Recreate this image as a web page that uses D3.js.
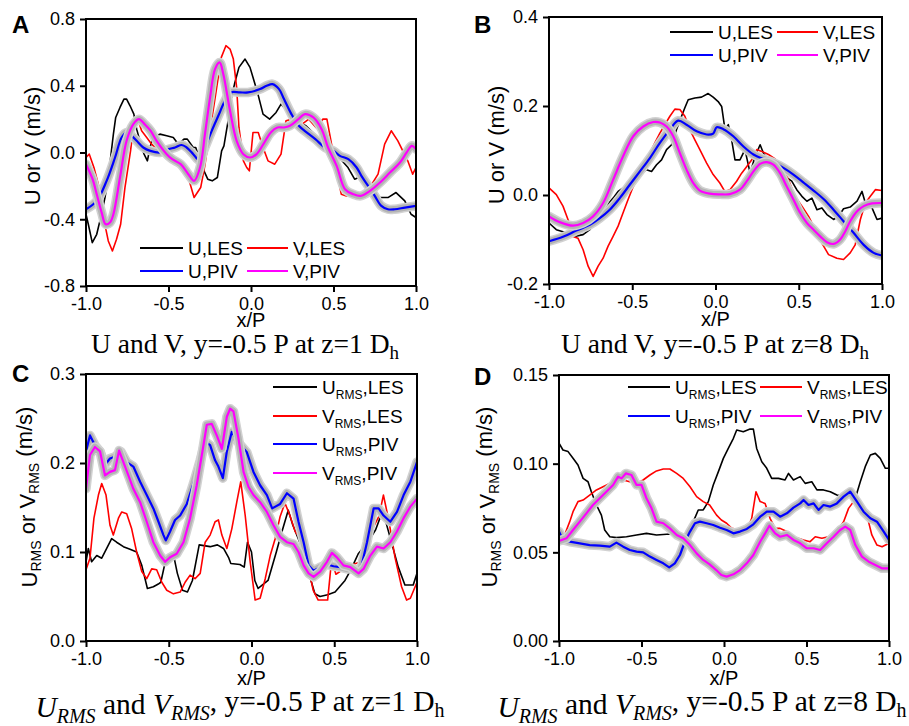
<!DOCTYPE html>
<html>
<head>
<meta charset="utf-8">
<script src="https://cdn.jsdelivr.net/npm/d3@7"></script>
<style>
  body { margin: 0; background: #fff; }
  svg { display: block; }
</style>
</head>
<body>
<svg id="fig" width="909" height="726"></svg>
<script>
// ---- shared axis values ----
const xTicks = [-1.0, -0.5, 0.0, 0.5, 1.0];
const aYTicks = [-0.8, -0.4, 0.0, 0.4, 0.8];
const bYTicks = [-0.2, 0.0, 0.2, 0.4];
const cYTicks = [0.0, 0.1, 0.2, 0.3];
const dYTicks = [0.00, 0.05, 0.10, 0.15];

// ---- panel A: U and V at z = 1 Dh, [x/P, value in m/s] ----
const aULes = [[-1.0,-0.37],[-0.986,-0.43],[-0.962,-0.54],[-0.935,-0.49],[-0.911,-0.39],[-0.885,-0.27],[-0.865,-0.15],[-0.834,0.11],[-0.82,0.21],[-0.794,0.27],[-0.77,0.32],[-0.754,0.32],[-0.733,0.28],[-0.71,0.23],[-0.693,0.14],[-0.668,0.05],[-0.648,-0.01],[-0.628,-0.05],[-0.612,0.03],[-0.592,0.10],[-0.578,0.10],[-0.552,0.11],[-0.511,0.10],[-0.471,0.09],[-0.44,0.05],[-0.406,0.08],[-0.386,0.08],[-0.35,0.03],[-0.335,0.03],[-0.31,-0.05],[-0.285,-0.11],[-0.262,-0.16],[-0.235,-0.17],[-0.204,-0.15],[-0.178,0.01],[-0.164,0.04],[-0.137,0.20],[-0.123,0.31],[-0.1,0.41],[-0.073,0.51],[-0.036,0.56],[-0.006,0.51],[0.024,0.41],[0.042,0.35],[0.073,0.23],[0.113,0.20],[0.152,0.24],[0.182,0.29],[0.22,0.25],[0.26,0.21],[0.29,0.18],[0.333,0.16],[0.406,0.09],[0.507,0.0],[0.588,-0.09],[0.628,-0.16],[0.679,-0.14],[0.75,-0.27],[0.83,-0.27],[0.879,-0.24],[0.932,-0.29],[0.97,-0.37],[1.0,-0.39]];
const aVLes = [[-1.0,-0.03],[-0.98,-0.01],[-0.952,-0.09],[-0.915,-0.23],[-0.89,-0.41],[-0.865,-0.53],[-0.84,-0.59],[-0.815,-0.52],[-0.79,-0.43],[-0.764,-0.21],[-0.73,0.01],[-0.71,0.17],[-0.695,0.21],[-0.683,0.19],[-0.663,0.13],[-0.632,0.09],[-0.602,0.05],[-0.572,0.02],[-0.531,0.01],[-0.491,-0.03],[-0.45,-0.05],[-0.406,-0.11],[-0.38,-0.15],[-0.345,-0.27],[-0.305,-0.21],[-0.28,-0.08],[-0.255,0.09],[-0.214,0.35],[-0.18,0.57],[-0.152,0.64],[-0.127,0.62],[-0.107,0.56],[-0.087,0.39],[-0.073,0.15],[-0.046,-0.05],[-0.026,-0.09],[-0.01,-0.11],[0.012,0.12],[0.044,0.12],[0.073,0.03],[0.103,-0.05],[0.144,-0.07],[0.182,-0.01],[0.212,0.19],[0.25,0.20],[0.28,0.16],[0.31,0.17],[0.35,0.20],[0.394,0.15],[0.436,0.20],[0.46,0.20],[0.507,-0.05],[0.547,-0.25],[0.578,-0.26],[0.62,-0.25],[0.68,-0.24],[0.72,-0.21],[0.77,-0.13],[0.81,0.05],[0.85,0.13],[0.89,0.07],[0.92,0.01],[0.95,-0.05],[0.98,-0.13],[1.0,-0.09]];
const aUPiv = [[-1.0,-0.34],[-0.935,-0.29],[-0.875,-0.17],[-0.824,-0.03],[-0.784,0.09],[-0.754,0.12],[-0.723,0.10],[-0.693,0.07],[-0.653,0.03],[-0.61,0.01],[-0.552,0.0],[-0.5,0.02],[-0.46,0.03],[-0.42,0.045],[-0.39,0.03],[-0.35,-0.01],[-0.315,-0.045],[-0.279,0.03],[-0.238,0.13],[-0.198,0.22],[-0.158,0.31],[-0.123,0.36],[-0.067,0.36],[-0.018,0.36],[0.055,0.38],[0.095,0.40],[0.13,0.41],[0.17,0.38],[0.2,0.32],[0.245,0.23],[0.29,0.16],[0.325,0.13],[0.39,0.08],[0.448,0.03],[0.499,0.01],[0.539,-0.02],[0.59,-0.04],[0.64,-0.09],[0.669,-0.14],[0.71,-0.2],[0.75,-0.26],[0.79,-0.32],[0.83,-0.34],[0.871,-0.34],[0.933,-0.33],[1.0,-0.32]];
const aVPiv = [[-1.0,-0.07],[-0.96,-0.16],[-0.935,-0.25],[-0.905,-0.36],[-0.881,-0.43],[-0.855,-0.42],[-0.834,-0.37],[-0.794,-0.15],[-0.754,0.07],[-0.713,0.17],[-0.679,0.20],[-0.645,0.17],[-0.608,0.13],[-0.572,0.07],[-0.511,-0.01],[-0.477,-0.04],[-0.426,-0.07],[-0.38,-0.13],[-0.345,-0.17],[-0.309,-0.09],[-0.279,0.11],[-0.248,0.33],[-0.218,0.50],[-0.19,0.54],[-0.168,0.47],[-0.127,0.25],[-0.087,0.07],[-0.046,-0.01],[-0.006,-0.03],[0.034,-0.01],[0.075,0.05],[0.12,0.12],[0.16,0.15],[0.2,0.15],[0.236,0.16],[0.287,0.20],[0.327,0.23],[0.378,0.21],[0.428,0.14],[0.467,0.03],[0.519,-0.08],[0.57,-0.22],[0.62,-0.25],[0.665,-0.26],[0.721,-0.23],[0.782,-0.18],[0.842,-0.12],[0.903,-0.06],[0.943,0.0],[0.975,0.04],[1.0,0.02]];

// ---- panel B: U and V at z = 8 Dh ----
const bULes = [[-1.0,-0.063],[-0.956,-0.078],[-0.896,-0.085],[-0.846,-0.093],[-0.795,-0.089],[-0.755,-0.078],[-0.705,-0.048],[-0.655,-0.025],[-0.615,-0.007],[-0.585,0.008],[-0.555,0.016],[-0.515,0.023],[-0.474,0.034],[-0.444,0.049],[-0.414,0.057],[-0.384,0.053],[-0.354,0.068],[-0.324,0.079],[-0.294,0.102],[-0.264,0.113],[-0.234,0.147],[-0.204,0.177],[-0.184,0.196],[-0.164,0.214],[-0.124,0.218],[-0.084,0.220],[-0.044,0.228],[-0.014,0.220],[0.016,0.210],[0.037,0.199],[0.057,0.147],[0.077,0.158],[0.097,0.124],[0.117,0.079],[0.147,0.079],[0.177,0.102],[0.208,0.049],[0.238,0.087],[0.268,0.113],[0.288,0.094],[0.328,0.072],[0.378,0.064],[0.418,0.042],[0.458,0.031],[0.488,0.012],[0.519,-0.003],[0.549,-0.014],[0.579,-0.007],[0.609,-0.033],[0.639,-0.029],[0.669,-0.044],[0.709,-0.055],[0.739,-0.048],[0.769,-0.031],[0.809,-0.027],[0.85,-0.014],[0.88,0.008],[0.9,-0.018],[0.94,-0.029],[0.97,-0.055],[1.0,-0.052]];
const bVLes = [[-1.0,0.016],[-0.956,0.001],[-0.916,-0.025],[-0.886,-0.055],[-0.856,-0.093],[-0.826,-0.097],[-0.795,-0.123],[-0.765,-0.160],[-0.735,-0.183],[-0.705,-0.160],[-0.675,-0.142],[-0.645,-0.115],[-0.615,-0.093],[-0.585,-0.070],[-0.555,-0.040],[-0.525,-0.010],[-0.494,0.019],[-0.464,0.042],[-0.434,0.064],[-0.394,0.094],[-0.364,0.117],[-0.334,0.139],[-0.304,0.158],[-0.274,0.177],[-0.244,0.193],[-0.214,0.192],[-0.184,0.177],[-0.154,0.147],[-0.124,0.124],[-0.094,0.102],[-0.054,0.072],[-0.014,0.046],[0.026,0.027],[0.056,0.008],[0.087,0.012],[0.127,0.031],[0.157,0.049],[0.188,0.064],[0.218,0.079],[0.248,0.102],[0.278,0.098],[0.318,0.091],[0.358,0.081],[0.398,0.064],[0.438,0.034],[0.478,-0.003],[0.519,-0.025],[0.559,-0.048],[0.599,-0.078],[0.639,-0.108],[0.679,-0.134],[0.729,-0.142],[0.769,-0.145],[0.809,-0.130],[0.839,-0.112],[0.87,-0.055],[0.9,-0.018],[0.93,-0.003],[0.96,0.012],[1.0,0.010]];
const bUPiv = [[-1.0,-0.104],[-0.916,-0.094],[-0.836,-0.080],[-0.755,-0.067],[-0.695,-0.052],[-0.635,-0.033],[-0.575,-0.007],[-0.515,0.023],[-0.454,0.053],[-0.394,0.083],[-0.334,0.117],[-0.274,0.147],[-0.224,0.167],[-0.174,0.158],[-0.113,0.143],[-0.053,0.136],[-0.014,0.138],[0.007,0.152],[0.047,0.148],[0.107,0.132],[0.168,0.109],[0.228,0.091],[0.288,0.081],[0.348,0.073],[0.408,0.061],[0.468,0.046],[0.529,0.028],[0.589,0.010],[0.649,-0.009],[0.709,-0.033],[0.769,-0.059],[0.829,-0.085],[0.89,-0.112],[0.95,-0.130],[1.0,-0.136]];
const bVPiv = [[-1.0,-0.048],[-0.936,-0.061],[-0.856,-0.069],[-0.795,-0.063],[-0.735,-0.048],[-0.675,-0.018],[-0.615,0.034],[-0.555,0.087],[-0.494,0.132],[-0.434,0.154],[-0.374,0.164],[-0.334,0.163],[-0.294,0.154],[-0.254,0.132],[-0.214,0.094],[-0.174,0.057],[-0.134,0.027],[-0.094,0.010],[-0.034,0.003],[0.026,0.0015],[0.087,0.002],[0.147,0.012],[0.188,0.031],[0.228,0.053],[0.268,0.070],[0.308,0.074],[0.348,0.068],[0.388,0.049],[0.428,0.019],[0.468,-0.010],[0.508,-0.040],[0.549,-0.063],[0.589,-0.078],[0.629,-0.093],[0.669,-0.106],[0.709,-0.110],[0.749,-0.100],[0.779,-0.082],[0.809,-0.059],[0.849,-0.037],[0.89,-0.025],[0.94,-0.019],[1.0,-0.018]];

// ---- panel C: URMS and VRMS at z = 1 Dh ----
const cULes = [[-1.0,0.089],[-0.986,0.104],[-0.966,0.089],[-0.935,0.096],[-0.905,0.093],[-0.875,0.104],[-0.845,0.115],[-0.815,0.111],[-0.774,0.106],[-0.734,0.103],[-0.694,0.100],[-0.663,0.085],[-0.629,0.059],[-0.593,0.061],[-0.563,0.064],[-0.548,0.066],[-0.528,0.083],[-0.515,0.093],[-0.468,0.094],[-0.448,0.076],[-0.417,0.057],[-0.387,0.055],[-0.357,0.068],[-0.316,0.108],[-0.25,0.106],[-0.206,0.108],[-0.169,0.104],[-0.139,0.094],[-0.125,0.087],[-0.07,0.086],[-0.044,0.083],[-0.024,0.111],[0.0,0.10],[0.02,0.068],[0.04,0.059],[0.1,0.068],[0.15,0.10],[0.181,0.121],[0.222,0.147],[0.25,0.13],[0.302,0.106],[0.353,0.072],[0.383,0.053],[0.414,0.050],[0.46,0.052],[0.505,0.055],[0.565,0.068],[0.6,0.08],[0.645,0.098],[0.7,0.11],[0.75,0.125],[0.78,0.14],[0.81,0.135],[0.847,0.11],[0.887,0.083],[0.927,0.063],[0.977,0.063],[1.0,0.076]];
const cVLes = [[-1.0,0.080],[-0.976,0.093],[-0.952,0.138],[-0.925,0.164],[-0.905,0.177],[-0.879,0.164],[-0.855,0.130],[-0.835,0.119],[-0.804,0.138],[-0.784,0.145],[-0.754,0.143],[-0.724,0.126],[-0.694,0.100],[-0.663,0.078],[-0.633,0.070],[-0.603,0.081],[-0.573,0.080],[-0.542,0.066],[-0.512,0.057],[-0.472,0.053],[-0.431,0.055],[-0.401,0.066],[-0.371,0.074],[-0.341,0.070],[-0.31,0.076],[-0.28,0.111],[-0.25,0.119],[-0.22,0.134],[-0.2,0.136],[-0.179,0.119],[-0.149,0.104],[-0.119,0.126],[-0.089,0.156],[-0.065,0.179],[-0.038,0.141],[-0.008,0.089],[0.022,0.046],[0.052,0.048],[0.083,0.070],[0.113,0.096],[0.143,0.115],[0.173,0.140],[0.202,0.155],[0.234,0.14],[0.264,0.123],[0.313,0.11],[0.335,0.09],[0.373,0.057],[0.403,0.046],[0.46,0.046],[0.484,0.091],[0.51,0.075],[0.55,0.08],[0.6,0.085],[0.66,0.089],[0.7,0.096],[0.736,0.128],[0.77,0.14],[0.797,0.164],[0.83,0.135],[0.867,0.094],[0.907,0.061],[0.937,0.046],[0.96,0.048],[1.0,0.066]];
const cUPiv = [[-1.0,0.213],[-0.976,0.231],[-0.946,0.220],[-0.915,0.213],[-0.885,0.198],[-0.855,0.205],[-0.825,0.207],[-0.79,0.213],[-0.754,0.201],[-0.714,0.196],[-0.673,0.179],[-0.633,0.164],[-0.593,0.149],[-0.562,0.134],[-0.532,0.119],[-0.518,0.113],[-0.492,0.123],[-0.462,0.136],[-0.431,0.141],[-0.391,0.154],[-0.351,0.177],[-0.31,0.203],[-0.28,0.224],[-0.25,0.220],[-0.22,0.203],[-0.2,0.196],[-0.173,0.183],[-0.149,0.213],[-0.119,0.235],[-0.075,0.222],[-0.028,0.212],[0.012,0.190],[0.052,0.175],[0.093,0.164],[0.125,0.149],[0.173,0.154],[0.214,0.166],[0.254,0.160],[0.284,0.134],[0.315,0.111],[0.345,0.085],[0.375,0.079],[0.415,0.083],[0.456,0.086],[0.496,0.084],[0.536,0.083],[0.577,0.081],[0.617,0.081],[0.657,0.078],[0.698,0.111],[0.738,0.149],[0.768,0.149],[0.798,0.141],[0.839,0.134],[0.879,0.145],[0.919,0.164],[0.96,0.179],[1.0,0.201]];
const cVPiv = [[-1.0,0.171],[-0.976,0.209],[-0.946,0.218],[-0.915,0.213],[-0.885,0.186],[-0.855,0.190],[-0.825,0.192],[-0.8,0.214],[-0.774,0.201],[-0.744,0.186],[-0.714,0.171],[-0.673,0.156],[-0.633,0.134],[-0.593,0.111],[-0.552,0.096],[-0.522,0.089],[-0.492,0.094],[-0.452,0.098],[-0.411,0.111],[-0.371,0.138],[-0.331,0.175],[-0.3,0.209],[-0.27,0.243],[-0.24,0.244],[-0.21,0.231],[-0.179,0.216],[-0.149,0.252],[-0.129,0.261],[-0.109,0.258],[-0.079,0.228],[-0.048,0.190],[-0.018,0.173],[0.012,0.164],[0.052,0.156],[0.093,0.145],[0.133,0.130],[0.173,0.117],[0.214,0.111],[0.254,0.109],[0.284,0.100],[0.315,0.085],[0.345,0.076],[0.375,0.072],[0.415,0.078],[0.456,0.089],[0.486,0.099],[0.516,0.094],[0.556,0.085],[0.597,0.083],[0.647,0.076],[0.677,0.081],[0.718,0.096],[0.758,0.106],[0.798,0.104],[0.839,0.111],[0.879,0.123],[0.919,0.138],[0.96,0.151],[1.0,0.160]];

// ---- panel D: URMS and VRMS at z = 8 Dh ----
const dULes = [[-1.0,0.1115],[-0.976,0.1077],[-0.945,0.1068],[-0.915,0.103],[-0.885,0.0992],[-0.854,0.0917],[-0.824,0.0898],[-0.804,0.0842],[-0.773,0.0767],[-0.743,0.071],[-0.723,0.0626],[-0.692,0.0588],[-0.652,0.0583],[-0.591,0.0588],[-0.53,0.0598],[-0.47,0.0607],[-0.409,0.0598],[-0.348,0.0602],[-0.298,0.0603],[-0.247,0.0579],[-0.217,0.0635],[-0.186,0.0673],[-0.156,0.0739],[-0.126,0.0739],[-0.095,0.0786],[-0.065,0.088],[-0.034,0.0955],[-0.004,0.103],[0.026,0.1086],[0.057,0.1143],[0.077,0.119],[0.117,0.118],[0.158,0.1195],[0.178,0.1195],[0.198,0.1086],[0.229,0.1011],[0.259,0.0974],[0.289,0.0917],[0.33,0.0917],[0.37,0.0908],[0.391,0.0945],[0.421,0.0908],[0.462,0.0927],[0.492,0.0889],[0.532,0.0898],[0.563,0.0852],[0.603,0.0852],[0.644,0.0842],[0.684,0.0823],[0.725,0.0814],[0.765,0.0823],[0.796,0.0805],[0.826,0.0898],[0.856,0.0983],[0.887,0.1049],[0.917,0.1058],[0.947,0.103],[0.978,0.0974],[1.0,0.0974]];
const dVLes = [[-1.0,0.056],[-0.966,0.0598],[-0.935,0.0673],[-0.915,0.0729],[-0.885,0.0786],[-0.854,0.0795],[-0.814,0.0823],[-0.773,0.0852],[-0.733,0.087],[-0.692,0.0889],[-0.652,0.0908],[-0.611,0.0908],[-0.571,0.0898],[-0.53,0.0889],[-0.49,0.0908],[-0.449,0.0936],[-0.409,0.0959],[-0.368,0.097],[-0.328,0.097],[-0.287,0.0945],[-0.247,0.0917],[-0.206,0.087],[-0.166,0.0814],[-0.126,0.0786],[-0.087,0.0767],[-0.045,0.071],[-0.016,0.0682],[0.016,0.0664],[0.047,0.0635],[0.097,0.0626],[0.138,0.0626],[0.168,0.0692],[0.194,0.0842],[0.219,0.0786],[0.249,0.0776],[0.279,0.0692],[0.31,0.0635],[0.34,0.0635],[0.381,0.0617],[0.421,0.0588],[0.482,0.057],[0.522,0.056],[0.553,0.0588],[0.593,0.0579],[0.634,0.0588],[0.684,0.0617],[0.725,0.0673],[0.755,0.0748],[0.785,0.0786],[0.826,0.0776],[0.866,0.071],[0.896,0.0598],[0.927,0.0541],[0.958,0.0532],[1.0,0.0551]];
const dUPiv = [[-1.0,0.0617],[-0.976,0.057],[-0.935,0.056],[-0.874,0.0551],[-0.814,0.0541],[-0.753,0.0538],[-0.692,0.0532],[-0.652,0.0555],[-0.611,0.0532],[-0.571,0.0513],[-0.53,0.0504],[-0.49,0.05],[-0.449,0.0476],[-0.409,0.0457],[-0.368,0.0438],[-0.332,0.0415],[-0.298,0.0438],[-0.267,0.0485],[-0.237,0.056],[-0.206,0.0617],[-0.176,0.0664],[-0.146,0.0673],[-0.105,0.0664],[-0.065,0.0654],[-0.024,0.0639],[0.016,0.0626],[0.057,0.0607],[0.097,0.0617],[0.138,0.0632],[0.178,0.0658],[0.219,0.0701],[0.259,0.0729],[0.3,0.0729],[0.34,0.0701],[0.381,0.072],[0.421,0.0752],[0.462,0.0776],[0.482,0.0795],[0.512,0.0767],[0.543,0.0776],[0.573,0.0739],[0.603,0.0767],[0.644,0.0758],[0.684,0.0776],[0.725,0.0814],[0.765,0.0842],[0.806,0.0786],[0.846,0.0729],[0.887,0.0692],[0.927,0.0673],[0.968,0.0617],[1.0,0.057]];
const dVPiv = [[-1.0,0.0564],[-0.955,0.0579],[-0.915,0.0626],[-0.874,0.0673],[-0.834,0.072],[-0.794,0.0767],[-0.753,0.0805],[-0.713,0.0842],[-0.672,0.088],[-0.642,0.0927],[-0.621,0.0917],[-0.595,0.0945],[-0.561,0.0936],[-0.53,0.088],[-0.5,0.088],[-0.47,0.0805],[-0.439,0.0748],[-0.409,0.0673],[-0.368,0.0664],[-0.328,0.0635],[-0.287,0.0598],[-0.247,0.0579],[-0.206,0.0541],[-0.166,0.0494],[-0.126,0.0457],[-0.087,0.0432],[-0.047,0.04],[-0.016,0.0372],[0.016,0.0363],[0.057,0.0376],[0.097,0.04],[0.138,0.0438],[0.178,0.0485],[0.219,0.056],[0.249,0.0607],[0.275,0.065],[0.31,0.0607],[0.34,0.0588],[0.381,0.0598],[0.421,0.057],[0.462,0.0551],[0.502,0.0523],[0.543,0.0523],[0.583,0.0513],[0.623,0.0551],[0.664,0.0588],[0.704,0.0626],[0.735,0.0645],[0.765,0.0626],[0.796,0.0541],[0.836,0.0476],[0.877,0.0447],[0.917,0.0429],[0.957,0.041],[1.0,0.041]];

// ---- legend / caption texts ----
const legendAB = [["U", "", ",LES"], ["V", "", ",LES"], ["U", "", ",PIV"], ["V", "", ",PIV"]];
const legendCD = [["U", "RMS", ",LES"], ["V", "RMS", ",LES"], ["U", "RMS", ",PIV"], ["V", "RMS", ",PIV"]];
const seriesColors = ["#000000", "#ff0000", "#0000ff", "#ff00ff"];

const SANS = "'Liberation Sans', Arial, Helvetica, sans-serif";
const SERIF = "'Liberation Serif', 'Times New Roman', Times, serif";

const svg = d3.select("#fig");
svg.append("rect").attr("width", 909).attr("height", 726).attr("fill", "#fff");

const panels = [
  { key: "A", box: [86, 416, 19, 286], yDomain: [-0.8, 0.8], yTicks: aYTicks, fmt: ".1f",
    data: [aULes, aVLes, aUPiv, aVPiv], smooth: true,
    letterPos: [12, 33], yTitlePos: [40, 146], yTitle: [["U or V (m/s)", false]], xTitleY: 327,
    legendText: legendAB,
    legendPos: [[140, 183, 248, 188], [247, 288, 248, 293], [140, 183, 271, 188], [247, 288, 271, 293]],
    caption: [[{ t: "U and V, y=-0.5 P at z=1 D" }, { t: "h", sub: true }]], capPos: [245, 353], capSize: 27.5 },
  { key: "B", box: [549, 882, 17, 284], yDomain: [-0.2, 0.4], yTicks: bYTicks, fmt: ".1f",
    data: [bULes, bVLes, bUPiv, bVPiv], smooth: true,
    letterPos: [474, 33], yTitlePos: [504, 145], yTitle: [["U or V (m/s)", false]], xTitleY: 326,
    legendText: legendAB,
    legendPos: [[670, 713, 32, 718], [777, 818, 32, 823], [670, 713, 55, 718], [777, 818, 55, 823]],
    caption: [[{ t: "U and V, y=-0.5 P at z=8 D" }, { t: "h", sub: true }]], capPos: [715, 353], capSize: 27.5 },
  { key: "C", box: [86, 417, 374, 641], yDomain: [0, 0.3], yTicks: cYTicks, fmt: ".1f",
    data: [cULes, cVLes, cUPiv, cVPiv], smooth: false,
    letterPos: [12, 382], yTitlePos: [37, 497],
    yTitle: [["U", false], ["RMS", true], [" or V", false], ["RMS", true], [" (m/s)", false]], xTitleY: 685,
    legendText: legendCD,
    legendPos: [[273, 317, 387, 322], [273, 317, 416, 322], [273, 317, 444, 322], [273, 317, 473, 322]],
    caption: [[{ t: "U", it: true }, { t: "RMS", it: true, sub: true }, { t: " and  " }, { t: "V", it: true },
               { t: "RMS", it: true, sub: true }, { t: ", y=-0.5 P at z=1 D" }, { t: "h", sub: true }]],
    capPos: [240, 717], capSize: 29.5 },
  { key: "D", box: [559, 889, 375, 641], yDomain: [0, 0.15], yTicks: dYTicks, fmt: ".2f",
    data: [dULes, dVLes, dUPiv, dVPiv], smooth: false,
    letterPos: [474, 385], yTitlePos: [497, 497],
    yTitle: [["U", false], ["RMS", true], [" or V", false], ["RMS", true], [" (m/s)", false]], xTitleY: 685,
    legendText: legendCD,
    legendPos: [[628, 670, 387, 675], [760, 802, 387, 807], [628, 670, 416, 675], [760, 802, 416, 807]],
    caption: [[{ t: "U", it: true }, { t: "RMS", it: true, sub: true }, { t: " and " }, { t: "V", it: true },
               { t: "RMS", it: true, sub: true }, { t: ", y=-0.5 P at z=8 D" }, { t: "h", sub: true }]],
    capPos: [702, 717], capSize: 29.5 }
];

function fmtTick(spec) {
  const f = d3.format(spec);
  return d => f(d).replace("\u2212", "-");
}

// append runs of text, each optionally a subscript
function appendRuns(textSel, runs, subSize) {
  let shifted = false;
  runs.forEach(r => {
    const ts = textSel.append("tspan").text(r.t);
    if (r.it) ts.attr("font-style", "italic");
    if (r.sub) {
      ts.attr("font-size", subSize);
      if (!shifted) { ts.attr("dy", "0.3em"); shifted = true; }
    } else if (shifted) {
      ts.attr("dy", "-0.3em"); shifted = false;
    }
  });
}

panels.forEach(p => {
  const [L, R, T, B] = p.box;
  const g = svg.append("g");
  const x = d3.scaleLinear().domain([-1, 1]).range([L, R]);
  const y = d3.scaleLinear().domain(p.yDomain).range([B, T]);

  const clipId = "clip" + p.key;
  g.append("clipPath").attr("id", clipId)
    .append("rect").attr("x", L).attr("y", T).attr("width", R - L).attr("height", B - T);

  // axes
  const xAxis = d3.axisBottom(x).tickValues(xTicks).tickSize(6).tickPadding(5).tickFormat(fmtTick(".1f"));
  const yAxis = d3.axisLeft(y).tickValues(p.yTicks).tickSize(6).tickPadding(5).tickFormat(fmtTick(p.fmt));
  [g.append("g").attr("transform", `translate(0,${B})`).call(xAxis),
   g.append("g").attr("transform", `translate(${L},0)`).call(yAxis)].forEach(a => {
    a.select(".domain").remove();
    a.selectAll(".tick line").attr("stroke", "#000").attr("stroke-width", 2);
    a.selectAll(".tick text").attr("fill", "#000").attr("font-size", 18).attr("font-family", SANS);
  });

  // curves: LES first, then PIV with grey halo
  const lineGen = d3.line().x(d => x(d[0])).y(d => y(d[1]));
  const pivLine = p.smooth ? d3.line().x(d => x(d[0])).y(d => y(d[1])).curve(d3.curveCatmullRom.alpha(0.5)) : lineGen;
  const plot = g.append("g").attr("clip-path", `url(#${clipId})`);
  [0, 1].forEach(i => {
    plot.append("path").datum(p.data[i]).attr("d", lineGen)
      .attr("fill", "none").attr("stroke", seriesColors[i]).attr("stroke-width", 1.6)
      .attr("stroke-linejoin", "round");
  });
  [2, 3].forEach(i => {
    plot.append("path").datum(p.data[i]).attr("d", pivLine)
      .attr("fill", "none").attr("stroke", "#d2d2d2").attr("stroke-width", 9.5)
      .attr("stroke-linejoin", "round").attr("stroke-linecap", "round");
    plot.append("path").datum(p.data[i]).attr("d", pivLine)
      .attr("fill", "none").attr("stroke", "#b4b4b4").attr("stroke-width", 6.5)
      .attr("stroke-linejoin", "round").attr("stroke-linecap", "round");
    plot.append("path").datum(p.data[i]).attr("d", pivLine)
      .attr("fill", "none").attr("stroke", seriesColors[i]).attr("stroke-width", 2.2)
      .attr("stroke-linejoin", "round");
  });

  // frame
  g.append("rect").attr("x", L).attr("y", T).attr("width", R - L).attr("height", B - T)
    .attr("fill", "none").attr("stroke", "#000").attr("stroke-width", 2);

  // legend
  p.legendPos.forEach((pos, i) => {
    const [x1, x2, ly, tx] = pos;
    g.append("line").attr("x1", x1).attr("x2", x2).attr("y1", ly).attr("y2", ly)
      .attr("stroke", seriesColors[i]).attr("stroke-width", i < 2 ? 1.8 : 2.2);
    const [main, sub, rest] = p.legendText[i];
    const t = g.append("text").attr("x", tx).attr("y", ly + 6.5)
      .attr("font-family", SANS).attr("font-size", 19).attr("fill", "#000");
    t.append("tspan").text(main);
    if (sub) {
      t.append("tspan").attr("font-size", 12).attr("dy", 5).text(sub);
      t.append("tspan").attr("dy", -5).text(rest);
    } else {
      t.append("tspan").text(rest);
    }
  });

  // panel letter
  g.append("text").attr("x", p.letterPos[0]).attr("y", p.letterPos[1])
    .attr("font-family", SANS).attr("font-weight", "bold").attr("font-size", 24).text(p.key);

  // y title
  const yt = g.append("text")
    .attr("transform", `translate(${p.yTitlePos[0]},${p.yTitlePos[1]}) rotate(-90)`)
    .attr("text-anchor", "middle").attr("font-family", SANS).attr("font-size", 22);
  appendRuns(yt, p.yTitle.map(r => ({ t: r[0], sub: r[1] })), 14);

  // x title
  g.append("text").attr("x", (L + R) / 2).attr("y", p.xTitleY)
    .attr("text-anchor", "middle").attr("font-family", SANS).attr("font-size", 20).text("x/P");

  // caption
  const cap = g.append("text").attr("x", p.capPos[0]).attr("y", p.capPos[1])
    .attr("text-anchor", "middle").attr("font-family", SERIF).attr("font-size", p.capSize);
  appendRuns(cap, p.caption[0], Math.round(p.capSize * 0.68));
});
</script>
</body>
</html>
